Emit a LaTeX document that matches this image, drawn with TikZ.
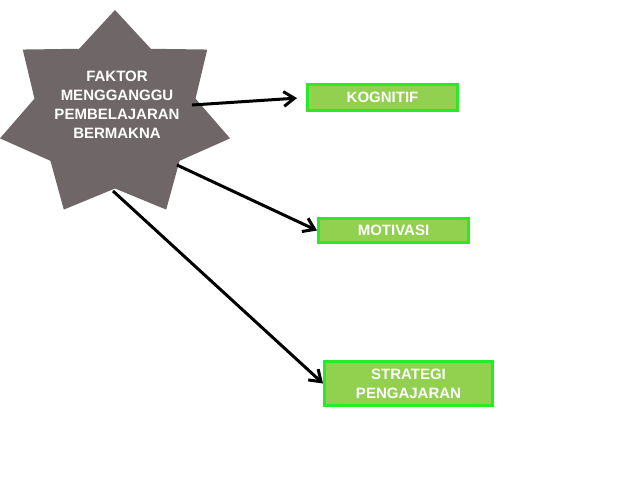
\documentclass[tikz,border=0pt]{standalone}
\usepackage{fontspec}
\setmainfont{Liberation Sans}
\usetikzlibrary{arrows.meta}
\definecolor{abuBintang}{RGB}{111,103,103}
\definecolor{hijauIsi}{RGB}{146,208,80}
\definecolor{hijauGaris}{RGB}{40,235,40}

\begin{document}
\begin{tikzpicture}[x=0.75pt, y=-0.75pt, >={Straight Barb[length=8pt,width=11pt]},
	tulisan/.style={text=white, font=\bfseries\fontsize{11.25}{14.25}\selectfont, align=center, inner sep=0pt},
	kotak/.style={tulisan, draw=hijauGaris, line width=2.25pt, fill=hijauIsi},
	panah/.style={->, line width=2.25pt}]
	\useasboundingbox (0,0) rectangle (638,479);
	
	% Bintang tujuh sudut
	\fill[abuBintang] (115,10) \foreach \k in {1,...,13} {
		-- ({115+118*(1-0.3*mod(\k,2))*cos(90+\k*180/7)}, {115-105*(1-0.3*mod(\k,2))*sin(90+\k*180/7)})
	} -- cycle;
	\node[tulisan] (faktor) at (117,105) {FAKTOR\\MENGGANGGU\\PEMBELAJARAN\\BERMAKNA};
	
	% Tiga kotak faktor
	\node[kotak, minimum width=112.5pt, minimum height=19.5pt] (kognitif) at (382.5,97.5) {KOGNITIF};
	\node[kotak, minimum width=112.5pt, minimum height=18pt] (motivasi) at (393.5,230.5) {MOTIVASI};
	\node[kotak, minimum width=126pt, minimum height=33pt] (strategi) at (408.5,383.5) {STRATEGI\\PENGAJARAN};
	
	% Panah dari bintang
	\coordinate (p1) at (192,105);
	\coordinate (p2) at (177,165);
	\coordinate (p3) at (113,191);
	\draw[panah, shorten >=6.75pt] (p1) -- (kognitif.west);
	\draw[panah] (p2) -- (motivasi.west);
	\draw[panah] (p3) -- (strategi.west);
\end{tikzpicture}
\end{document}
